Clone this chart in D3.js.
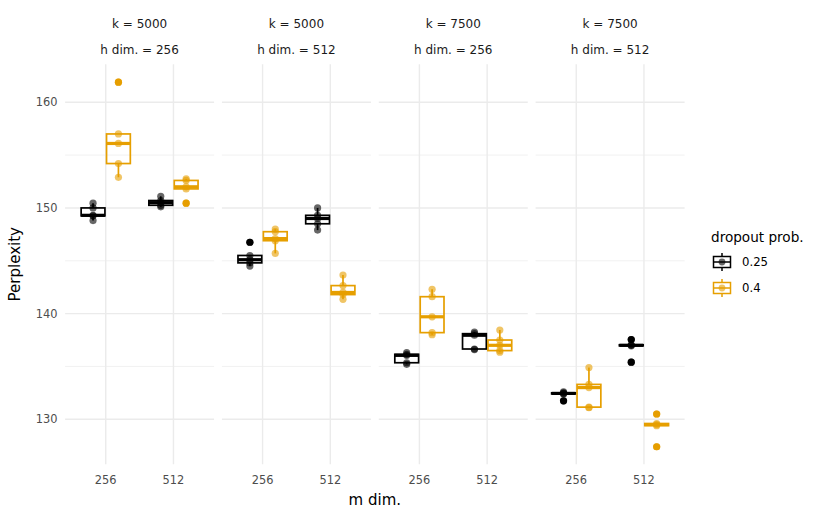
<!DOCTYPE html>
<html>
<head>
<meta charset="utf-8">
<script src="https://cdn.jsdelivr.net/npm/d3@7"></script>
<style>
  body { margin: 0; background: #fff; }
  text { font-family: "DejaVu Sans", "Liberation Sans", Arial, sans-serif; }
</style>
</head>
<body>
<div id="chart"></div>
<script>
const facetK = ["k = 5000", "k = 5000", "k = 7500", "k = 7500"];
const facetH = ["h dim. = 256", "h dim. = 512", "h dim. = 256", "h dim. = 512"];
const mDims = ["256", "512"];
const dropouts = ["0.25", "0.4"];
const yTicks = [130, 140, 150, 160];
const yMinor = [135, 145, 155];

// perplexity runs, order: facet 1 m256, facet 1 m512, facet 2 m256, ...
const perp025 = [
  [148.8, 149.25, 149.3, 150.0, 150.45],
  [150.1, 150.25, 150.5, 150.7, 151.1],
  [144.5, 144.8, 145.1, 145.5, 146.75],
  [147.9, 148.5, 149.0, 149.3, 150.0],
  [135.2, 135.35, 136.05, 136.15, 136.3],
  [136.6, 136.65, 137.95, 138.1, 138.25],
  [131.75, 132.4, 132.45, 132.5, 132.6],
  [135.4, 136.95, 137.0, 137.05, 137.55]
];
const perp04 = [
  [152.9, 154.2, 156.1, 157.0, 161.9],
  [150.45, 151.8, 152.0, 152.6, 152.75],
  [145.7, 146.9, 147.1, 147.75, 148.0],
  [141.35, 141.8, 142.0, 142.65, 143.65],
  [138.0, 138.2, 139.7, 141.6, 142.3],
  [136.35, 136.5, 137.0, 137.5, 138.45],
  [131.1, 131.15, 133.0, 133.3, 134.9],
  [127.4, 129.4, 129.5, 129.6, 130.5]
];

const W = 830, H = 514;
const colour = d3.scaleOrdinal().domain(dropouts).range(["#000000", "#E69F00"]);

const svg = d3.select("#chart").append("svg")
  .attr("width", W).attr("height", H);

const facet = d3.scaleBand().domain(d3.range(4)).range([65.1, 684.6])
  .paddingInner(0.05).paddingOuter(0);
const xIn = d3.scalePoint().domain(mDims).range([0, facet.bandwidth()]).padding(0.6);
const step = xIn.step();
const dodge = d3.scaleBand().domain(dropouts).range([-0.375 * step, 0.375 * step]);
const y = d3.scaleLinear().domain([125.75, 163.6]).range([464.2, 64.2]);

// groups
const groups = [];
d3.range(4).forEach(f => {
  mDims.forEach((m, mi) => {
    [perp025, perp04].forEach((arr, di) => {
      const vals = arr[f * 2 + mi].slice().sort(d3.ascending);
      groups.push({ f, m, drop: dropouts[di], vals });
    });
  });
});

d3.range(4).forEach(f => {
  const g = svg.append("g").attr("transform", `translate(${facet(f)},0)`);
  const bw = facet.bandwidth();
  // grid
  g.selectAll(".minor").data(yMinor).join("line")
    .attr("x1", 0).attr("x2", bw).attr("y1", d => y(d)).attr("y2", d => y(d))
    .attr("stroke", "#ebebeb").attr("stroke-width", 0.7);
  g.selectAll(".major").data(yTicks).join("line")
    .attr("x1", 0).attr("x2", bw).attr("y1", d => y(d)).attr("y2", d => y(d))
    .attr("stroke", "#ebebeb").attr("stroke-width", 1.4);
  g.selectAll(".vmaj").data(mDims).join("line")
    .attr("x1", d => xIn(d)).attr("x2", d => xIn(d))
    .attr("y1", y.range()[0]).attr("y2", y.range()[1])
    .attr("stroke", "#ebebeb").attr("stroke-width", 1.4);

  // strips
  g.append("text").attr("x", bw / 2).attr("y", 28).attr("text-anchor", "middle")
    .attr("font-size", 12).attr("fill", "#1a1a1a").text(facetK[f]);
  g.append("text").attr("x", bw / 2).attr("y", 54).attr("text-anchor", "middle")
    .attr("font-size", 12).attr("fill", "#1a1a1a").text(facetH[f]);

  // x tick labels
  g.selectAll(".xl").data(mDims).join("text")
    .attr("x", d => xIn(d)).attr("y", 484).attr("text-anchor", "middle")
    .attr("font-size", 11.4).attr("fill", "#4d4d4d").text(d => d);

  const bwBox = dodge.bandwidth();
  groups.filter(d => d.f === f).forEach(d => {
    const cx = xIn(d.m) + dodge(d.drop) + bwBox / 2;
    const q1 = d3.quantile(d.vals, 0.25), med = d3.quantile(d.vals, 0.5), q3 = d3.quantile(d.vals, 0.75);
    const iqr = q3 - q1;
    const inside = d.vals.filter(v => v >= q1 - 1.5 * iqr && v <= q3 + 1.5 * iqr);
    const lo = d3.min(inside), hi = d3.max(inside);
    const out = d.vals.filter(v => v < q1 - 1.5 * iqr || v > q3 + 1.5 * iqr);
    const c = colour(d.drop);
    const bg = g.append("g");
    bg.append("line").attr("x1", cx).attr("x2", cx).attr("y1", y(q3)).attr("y2", y(hi))
      .attr("stroke", c).attr("stroke-width", 1.7);
    bg.append("line").attr("x1", cx).attr("x2", cx).attr("y1", y(q1)).attr("y2", y(lo))
      .attr("stroke", c).attr("stroke-width", 1.7);
    bg.append("rect").attr("x", cx - bwBox / 2 + 0.8).attr("width", bwBox - 1.6)
      .attr("y", y(q3)).attr("height", Math.max(0, y(q1) - y(q3)))
      .attr("fill", "none").attr("stroke", c).attr("stroke-width", 1.7);
    bg.append("line").attr("x1", cx - bwBox / 2 + 0.8).attr("x2", cx + bwBox / 2 - 0.8)
      .attr("y1", y(med)).attr("y2", y(med))
      .attr("stroke", c).attr("stroke-width", 3.2);
    bg.selectAll(".out").data(out).join("circle")
      .attr("cx", cx).attr("cy", v => y(v)).attr("r", 3.6).attr("fill", c);
    bg.selectAll(".pt").data(d.vals).join("circle")
      .attr("cx", cx).attr("cy", v => y(v)).attr("r", 3.6)
      .attr("fill", c).attr("fill-opacity", 0.6);
  });
});

// y axis labels
svg.selectAll(".yl").data(yTicks).join("text")
  .attr("x", 57.5).attr("y", d => y(d) + 4.2).attr("text-anchor", "end")
  .attr("font-size", 11.4).attr("fill", "#4d4d4d").text(d => d);

svg.append("text").attr("transform", `translate(20,${(y.range()[0] + y.range()[1]) / 2}) rotate(-90)`)
  .attr("text-anchor", "middle").attr("font-size", 15).text("Perplexity");
svg.append("text").attr("x", (facet.range()[0] + facet.range()[1]) / 2).attr("y", 505)
  .attr("text-anchor", "middle").attr("font-size", 15).text("m dim.");

// legend
const lg = svg.append("g").attr("transform", "translate(711,0)");
lg.append("text").attr("x", 0).attr("y", 242).attr("font-size", 13.6).text("dropout prob.");
dropouts.forEach((dp, i) => {
  const cy = 262 + i * 26;
  const c = colour(dp);
  const k = lg.append("g");
  k.append("line").attr("x1", 11).attr("x2", 11).attr("y1", cy - 9).attr("y2", cy + 9)
    .attr("stroke", c).attr("stroke-width", 1.5);
  k.append("rect").attr("x", 2.5).attr("y", cy - 5.5).attr("width", 17).attr("height", 11)
    .attr("fill", "#fff").attr("stroke", c).attr("stroke-width", 1.5);
  k.append("line").attr("x1", 2.5).attr("x2", 19.5).attr("y1", cy).attr("y2", cy)
    .attr("stroke", c).attr("stroke-width", 1.5);
  k.append("circle").attr("cx", 11).attr("cy", cy).attr("r", 3.4)
    .attr("fill", c).attr("fill-opacity", 0.6);
  lg.append("text").attr("x", 31).attr("y", cy + 4.2).attr("font-size", 11.7).text(dp);
});
</script>
</body>
</html>
